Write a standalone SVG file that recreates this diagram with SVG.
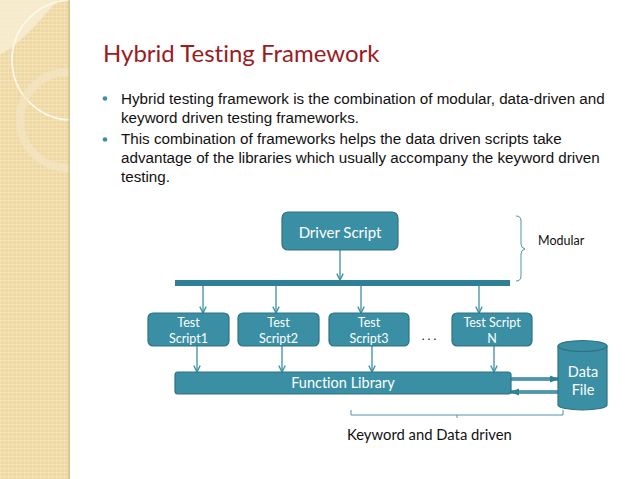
<svg xmlns="http://www.w3.org/2000/svg" width="638" height="479" viewBox="0 0 638 479">
<defs>
<pattern id="grid" width="4" height="4" patternUnits="userSpaceOnUse">
<rect width="4" height="4" fill="#EDD8A4"/>
<rect x="0" y="0" width="4" height="1" fill="#F6E6BE" opacity="0.8"/>
<rect x="0" y="0" width="1" height="4" fill="#F6E6BE" opacity="0.6"/>
</pattern>
<clipPath id="panel"><rect x="0" y="0" width="70" height="479"/></clipPath>
<marker id="ah" viewBox="0 0 10 10" refX="9" refY="5" markerWidth="8" markerHeight="8" markerUnits="userSpaceOnUse" orient="auto">
<path d="M1,1 L9,5 L1,9" fill="none" stroke="#3A8FA5" stroke-width="1.6"/>
</marker>
<marker id="ah2" viewBox="0 0 10 10" refX="9" refY="5" markerWidth="9" markerHeight="9" markerUnits="userSpaceOnUse" orient="auto">
<path d="M0,1 L10,5 L0,9 Z" fill="#2F7F95"/>
</marker>
</defs>
<style>
text{font-variant-ligatures:none}
.box{fill:#3A8FA5;stroke:#2D7284;stroke-width:1.2}
.bt{font-family:Lato,"Open Sans",sans-serif;fill:#ffffff;text-anchor:middle}
.conn{stroke:#3A8FA5;stroke-width:1.3;fill:none}
.body{font-family:"Liberation Sans",Arial,sans-serif;font-size:15.2px;fill:#111}
.lbl{font-family:Lato,"Open Sans",sans-serif;fill:#111}
.brk{stroke:#4A95A8;stroke-width:1;fill:none}
</style>
<rect width="638" height="479" fill="#ffffff"/>
<g id="panel-bg" clip-path="url(#panel)">
<rect x="0" y="0" width="70" height="479" fill="url(#grid)"/>
<path d="M0,0 L58,0 C40,20 25,40 0,55 Z" fill="#F7EDD3" opacity="0.85"/>
<circle cx="72" cy="60" r="60" fill="none" stroke="#FDF8EA" stroke-width="1.8"/>
<circle cx="68" cy="120" r="48" fill="none" stroke="#F3E6C4" stroke-width="8" opacity="0.7"/>
<rect x="68" y="0" width="2" height="479" fill="#C9B68A" opacity="0.6"/>
</g>
<text x="103" y="62" font-family="Lato,'Open Sans',sans-serif" font-size="24" fill="#9B1B1E">Hybrid Testing Framework</text>
<g id="bullets">
<circle cx="105" cy="98.5" r="2.3" fill="#3A8FA5"/>
<circle cx="105" cy="139.5" r="2.3" fill="#3A8FA5"/>
<text class="body" x="121" y="104">Hybrid testing framework is the combination of modular, data-driven and</text>
<text class="body" x="121" y="123">keyword driven testing frameworks.</text>
<text class="body" x="121" y="144">This combination of frameworks helps the data driven scripts take</text>
<text class="body" x="121" y="163">advantage of the libraries which usually accompany the keyword driven</text>
<text class="body" x="121" y="182">testing.</text>
</g>
<g id="connectors">
<line class="conn" x1="340" y1="250" x2="340" y2="280" marker-end="url(#ah)"/>
<line class="conn" x1="203" y1="286" x2="203" y2="313" marker-end="url(#ah)"/>
<line class="conn" x1="276" y1="286" x2="276" y2="313" marker-end="url(#ah)"/>
<line class="conn" x1="361" y1="286" x2="361" y2="313" marker-end="url(#ah)"/>
<line class="conn" x1="479" y1="286" x2="479" y2="313" marker-end="url(#ah)"/>
<line class="conn" x1="197" y1="346" x2="197" y2="372" marker-end="url(#ah)"/>
<line class="conn" x1="282" y1="346" x2="282" y2="372" marker-end="url(#ah)"/>
<line class="conn" x1="372" y1="346" x2="372" y2="372" marker-end="url(#ah)"/>
<line class="conn" x1="494" y1="346" x2="494" y2="372" marker-end="url(#ah)"/>
<line x1="511" y1="379" x2="558" y2="379" stroke="#2F7F95" stroke-width="3.5" marker-end="url(#ah2)"/>
<line x1="511" y1="379" x2="550" y2="379" stroke="#6FB0C0" stroke-width="1"/>
<line x1="558" y1="392" x2="511" y2="392" stroke="#2F7F95" stroke-width="3.5" marker-end="url(#ah2)"/>
<line x1="558" y1="392" x2="519" y2="392" stroke="#6FB0C0" stroke-width="1"/>
</g>
<g id="driver-script">
<rect class="box" x="282" y="212" width="116" height="38" rx="6"/>
<text class="bt" x="340" y="238" font-size="15">Driver Script</text>
</g>
<g id="bus">
<rect x="175" y="280" width="335" height="6" fill="#2F7F95"/>
</g>
<g id="modular-bracket">
<path class="brk" d="M516,216 Q521,216 521,221 L521,244 Q521,248 525,249 Q521,250 521,254 L521,276 Q521,281 516,281"/>
<text class="lbl" x="538" y="245" font-size="12.5">Modular</text>
</g>
<g id="test-script-1">
<rect class="box" x="148" y="313" width="81" height="33" rx="5"/>
<text class="bt" x="188.5" y="327" font-size="12.5">Test</text>
<text class="bt" x="188.5" y="343" font-size="12.5">Script1</text>
</g>
<g id="test-script-2">
<rect class="box" x="238" y="313" width="81" height="33" rx="5"/>
<text class="bt" x="278.5" y="327" font-size="12.5">Test</text>
<text class="bt" x="278.5" y="343" font-size="12.5">Script2</text>
</g>
<g id="test-script-3">
<rect class="box" x="329" y="313" width="80" height="33" rx="5"/>
<text class="bt" x="369" y="327" font-size="12.5">Test</text>
<text class="bt" x="369" y="343" font-size="12.5">Script3</text>
</g>
<text class="lbl" x="429" y="340" font-size="12" text-anchor="middle">. . .</text>
<g id="test-script-n">
<rect class="box" x="452" y="313" width="80" height="33" rx="5"/>
<text class="bt" x="492" y="327" font-size="12.5">Test Script</text>
<text class="bt" x="492" y="343" font-size="12.5">N</text>
</g>
<g id="function-library">
<rect class="box" x="175" y="372" width="336" height="22" rx="3"/>
<text class="bt" x="343" y="388" font-size="14.5">Function Library</text>
</g>
<g id="data-file">
<path d="M558,346 L558,405 A24.5,5 0 0 0 607,405 L607,346 Z" fill="#3A8FA5" stroke="#2D7284" stroke-width="1.2"/>
<ellipse cx="582.5" cy="346" rx="24.5" ry="5.5" fill="#3A8FA5" stroke="#2D7284" stroke-width="1.2"/>
<text class="bt" x="583" y="377" font-size="14.5">Data</text>
<text class="bt" x="583" y="395" font-size="14.5">File</text>
</g>
<g id="kd-bracket">
<path class="brk" d="M351,410 L351,415 L563,415 L563,410 M457,415 L457,418"/>
<text class="lbl" x="347" y="440" font-size="14.8">Keyword and Data driven</text>
</g>
</svg>
